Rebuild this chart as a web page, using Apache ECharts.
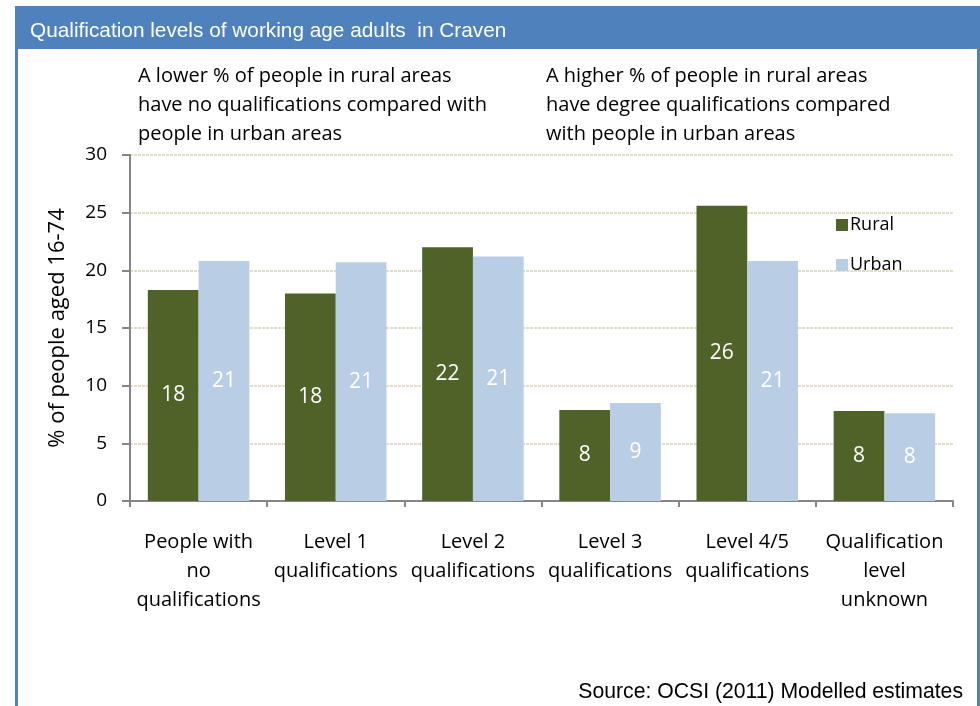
<!DOCTYPE html>
<html>
<head>
<meta charset="utf-8">
<script src="https://cdn.jsdelivr.net/npm/echarts@6/dist/echarts.min.js"></script>
<style>
html,body{margin:0;padding:0;background:#fff;}
#chart{width:980px;height:706px;}
</style>
</head>
<body>
<div id="chart"></div>
<script>
const titleText = 'Qualification levels of working age adults  in Craven';
const sourceText = 'Source: OCSI (2011) Modelled estimates';
const noteLeft = 'A lower % of people in rural areas\nhave no qualifications compared with\npeople in urban areas';
const noteRight = 'A higher % of people in rural areas\nhave degree qualifications compared\nwith people in urban areas';
const categories = [
  'People with\nno\nqualifications',
  'Level 1\nqualifications',
  'Level 2\nqualifications',
  'Level 3\nqualifications',
  'Level 4/5\nqualifications',
  'Qualification\nlevel\nunknown'
];
const seriesNames = ['Rural', 'Urban'];
const rural = [18.3, 18.0, 22.0, 7.9, 25.6, 7.8];
const urban = [20.8, 20.7, 21.2, 8.5, 20.8, 7.6];
const yTicks = [0, 5, 10, 15, 20, 25, 30];
const yName = '% of people aged 16-74';

const FONT = '"Open Sans"';
const chart = echarts.init(document.getElementById('chart'));
chart.setOption({
  animation: false,
  backgroundColor: '#ffffff',
  textStyle: { fontFamily: FONT },
  graphic: [
    { type: 'rect', left: 15, top: 6, shape: { width: 965, height: 43 }, style: { fill: '#4f81bd' }, silent: true },
    { type: 'rect', left: 15, top: 6, shape: { width: 3, height: 700 }, style: { fill: '#4f81bd' }, silent: true },
    { type: 'rect', left: 977, top: 6, shape: { width: 3, height: 700 }, style: { fill: '#4f81bd' }, silent: true },
    { type: 'text', left: 30, top: 21, style: { text: titleText, fill: '#ffffff', font: '20.8px "Liberation Sans", Arial, sans-serif' } },
    { type: 'text', left: 138, top: 62, style: { text: noteLeft, fill: '#000', font: '20px ' + FONT, lineHeight: 29 } },
    { type: 'text', left: 546, top: 62, style: { text: noteRight, fill: '#000', font: '20px ' + FONT, lineHeight: 29 } },
    { type: 'text', right: 17, top: 682, style: { text: sourceText, fill: '#000', font: '21.2px "Liberation Sans", Arial, sans-serif' } }
  ],
  legend: {
    data: seriesNames,
    orient: 'vertical',
    left: 831,
    top: 211,
    itemWidth: 12,
    itemHeight: 12,
    itemGap: 22,
    icon: 'rect',
    textStyle: { fontFamily: FONT, fontSize: 18, color: '#000', padding: [0, 0, 0, -3] }
  },
  grid: { left: 130, right: 27, top: 155, bottom: 205, containLabel: false },
  xAxis: {
    type: 'category',
    data: categories,
    axisLine: { lineStyle: { color: '#868686', width: 2 } },
    axisTick: { show: true, length: 6, lineStyle: { color: '#868686', width: 2 } },
    axisLabel: { interval: 0, color: '#000', fontSize: 20, fontFamily: FONT, lineHeight: 29, margin: 27 }
  },
  yAxis: {
    type: 'value',
    min: 0, max: 30, interval: 5,
    name: yName,
    nameLocation: 'middle',
    nameRotate: 90,
    nameGap: 61,
    nameTextStyle: { fontSize: 22, fontFamily: FONT, color: '#000' },
    axisLine: { show: true, lineStyle: { color: '#868686', width: 2 } },
    axisTick: { show: true, length: 8, lineStyle: { color: '#868686', width: 2 } },
    axisLabel: { color: '#000', fontSize: 19, fontFamily: FONT, margin: 23,
      formatter: v => yTicks.includes(v) ? String(v) : '' },
    splitLine: { show: true, lineStyle: { color: '#d9d4b4', type: [3, 1], width: 1.5 } }
  },
  series: [
    {
      name: seriesNames[0], type: 'bar', data: rural,
      barGap: '0%', barCategoryGap: '26%',
      itemStyle: { color: '#4f6228' },
      label: { show: true, position: 'inside', color: '#ffffff', fontSize: 21, fontFamily: FONT,
        formatter: p => Math.round(p.value) }
    },
    {
      name: seriesNames[1], type: 'bar', data: urban,
      itemStyle: { color: '#b9cde5' },
      label: { show: true, position: 'inside', color: '#ffffff', fontSize: 21, fontFamily: FONT,
        formatter: p => Math.round(p.value) }
    }
  ]
});
</script>
</body>
</html>
